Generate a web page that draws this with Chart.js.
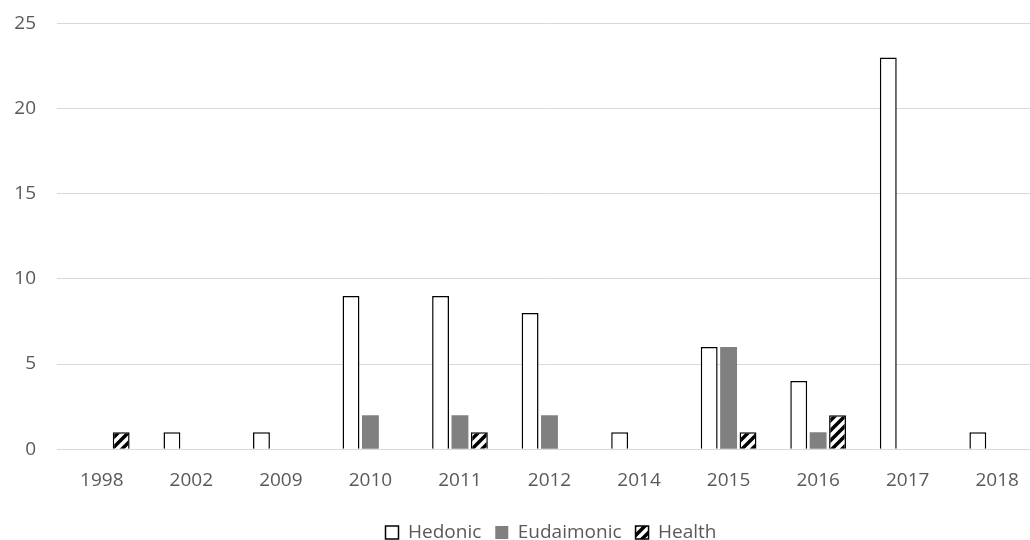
<!DOCTYPE html>
<html>
<head>
<meta charset="utf-8">
<script src="https://cdn.jsdelivr.net/npm/chart.js@4"></script>
<style>
  html, body { margin: 0; padding: 0; background: #fff; overflow: hidden; }
  #wrap { position: relative; top: -9px; width: 1100px; height: 561px; }
</style>
</head>
<body>
<div id="wrap"><canvas id="bar-chart"></canvas></div>
<script>
const years = ['1998', '2002', '2009', '2010', '2011', '2012', '2014', '2015', '2016', '2017', '2018'];
const hedonic = [0, 1, 1, 9, 9, 8, 1, 6, 4, 23, 1];
const eudaimonic = [0, 0, 0, 2, 2, 2, 0, 6, 1, 0, 0];
const health = [1, 0, 0, 0, 1, 0, 0, 1, 2, 0, 0];
const yTicks = [0, 5, 10, 15, 20, 25];

// diagonal stripes for the Health series
function makeHatch() {
  const c = document.createElement('canvas');
  c.width = 10; c.height = 10;
  const g = c.getContext('2d');
  g.fillStyle = '#fff';
  g.fillRect(0, 0, 10, 10);
  g.strokeStyle = '#000';
  g.lineWidth = 3.5;
  g.beginPath();
  g.moveTo(-2, 12); g.lineTo(12, -2);
  g.moveTo(-7, 7); g.lineTo(7, -7);
  g.moveTo(3, 17); g.lineTo(17, 3);
  g.stroke();
  return g.createPattern(c, 'repeat');
}

// legend sits centred under the whole chart, not the padded box
const shiftLegend = {
  id: 'shiftLegend',
  afterLayout(chart) {
    if (chart.legend) {
      chart.legend.left += 30;
      chart.legend.right += 30;
    }
  }
};

const ctx = document.getElementById('bar-chart').getContext('2d');
const hatch = makeHatch();
const font = { family: "'Open Sans', sans-serif", size: 19 };

new Chart(ctx, {
  type: 'bar',
  data: {
    labels: years,
    datasets: [
      { label: 'Hedonic', data: hedonic, backgroundColor: '#fff', borderColor: '#000', borderWidth: 1.5 },
      { label: 'Eudaimonic', data: eudaimonic, backgroundColor: '#808080', borderColor: '#808080', borderWidth: 0 },
      { label: 'Health', data: health, backgroundColor: hatch, borderColor: '#000', borderWidth: 1.5 }
    ]
  },
  options: {
    responsive: true,
    maintainAspectRatio: false,
    animation: false,
    categoryPercentage: 0.65,
    barPercentage: 0.87,
    layout: { padding: { top: 0, right: 58, left: 0, bottom: 0 } },
    plugins: {
      legend: {
        position: 'bottom',
        labels: {
          color: '#595959',
          font: font,
          boxWidth: 13,
          boxHeight: 13,
          padding: 14,
          generateLabels: (chart) => chart.data.datasets.map((ds, i) => ({
            text: ds.label,
            fillStyle: ds.backgroundColor,
            strokeStyle: i === 1 ? '#808080' : '#000',
            lineWidth: i === 1 ? 0 : 1.5,
            fontColor: '#595959',
            datasetIndex: i
          }))
        }
      },
      tooltip: { enabled: false }
    },
    scales: {
      x: {
        grid: { display: false },
        border: { color: '#d9d9d9' },
        ticks: { color: '#595959', font: font, padding: 12 },
        afterFit: (axis) => { axis.height += 5; }
      },
      y: {
        min: 0,
        max: 25,
        afterBuildTicks: (axis) => { axis.ticks = yTicks.map(v => ({ value: v })); },
        afterFit: (axis) => { axis.width = 57; },
        grid: { color: '#d9d9d9', drawTicks: false },
        border: { display: false },
        ticks: { color: '#595959', font: font, padding: 21 }
      }
    }
  },
  plugins: [shiftLegend]
});
</script>
</body>
</html>
